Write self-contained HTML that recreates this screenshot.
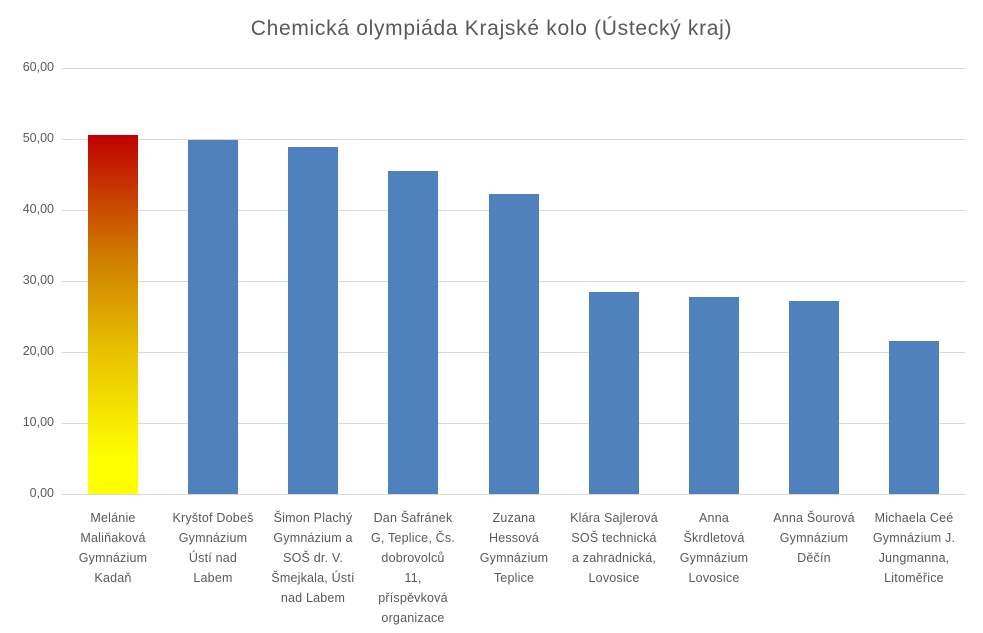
<!DOCTYPE html>
<html><head><meta charset="utf-8"><style>
body{margin:0;background:#fff;font-family:"Liberation Sans",sans-serif;}
#c{position:relative;width:983px;height:633px;overflow:hidden;background:#fff}
.g{position:absolute;left:62px;width:903px;height:1px;background:#d9d9d9}
.y{position:absolute;left:0;width:54px;text-align:right;font-size:12.5px;color:#595959}
.b{position:absolute;width:50px;background:#4f81bd}
.l{position:absolute;top:508px;width:100px;text-align:center;font-size:12.5px;line-height:20px;color:#595959;letter-spacing:0.2px}
</style></head><body><div id="c">
<div style="position:absolute;top:17px;left:0;width:983px;text-align:center;font-size:21px;letter-spacing:0.7px;color:#595959">Chemická olympiáda Krajské kolo (Ústecký kraj)</div>
<div class="g" style="top:68px"></div><div class="g" style="top:139px"></div><div class="g" style="top:210px"></div><div class="g" style="top:281px"></div><div class="g" style="top:352px"></div><div class="g" style="top:423px"></div><div class="g" style="top:494px"></div>
<div class="y" style="top:60px">60,00</div><div class="y" style="top:131px">50,00</div><div class="y" style="top:202px">40,00</div><div class="y" style="top:273px">30,00</div><div class="y" style="top:344px">20,00</div><div class="y" style="top:415px">10,00</div><div class="y" style="top:486px">0,00</div>
<div class="b" style="left:88px;top:135px;height:359px;background:linear-gradient(to bottom,#c00000 0%,#d08000 35%,#e8c000 60%,#ffff00 90%)"></div>
<div class="b" style="left:188px;top:140px;height:354px"></div>
<div class="b" style="left:288px;top:147px;height:347px"></div>
<div class="b" style="left:388px;top:171px;height:323px"></div>
<div class="b" style="left:489px;top:194px;height:300px"></div>
<div class="b" style="left:589px;top:292px;height:202px"></div>
<div class="b" style="left:689px;top:297px;height:197px"></div>
<div class="b" style="left:789px;top:301px;height:193px"></div>
<div class="b" style="left:889px;top:341px;height:153px"></div>
<div class="l" style="left:63px">Melánie<br>Maliňaková<br>Gymnázium<br>Kadaň</div>
<div class="l" style="left:163px">Kryštof Dobeš<br>Gymnázium<br>Ústí nad<br>Labem</div>
<div class="l" style="left:263px">Šimon Plachý<br>Gymnázium a<br>SOŠ dr. V.<br>Šmejkala, Ústí<br>nad Labem</div>
<div class="l" style="left:363px">Dan Šafránek<br>G, Teplice, Čs.<br>dobrovolců<br>11,<br>příspěvková<br>organizace</div>
<div class="l" style="left:464px">Zuzana<br>Hessová<br>Gymnázium<br>Teplice</div>
<div class="l" style="left:564px">Klára Sajlerová<br>SOŠ technická<br>a zahradnická,<br>Lovosice</div>
<div class="l" style="left:664px">Anna<br>Škrdletová<br>Gymnázium<br>Lovosice</div>
<div class="l" style="left:764px">Anna Šourová<br>Gymnázium<br>Děčín</div>
<div class="l" style="left:864px">Michaela Ceé<br>Gymnázium J.<br>Jungmanna,<br>Litoměřice</div>
</div></body></html>
